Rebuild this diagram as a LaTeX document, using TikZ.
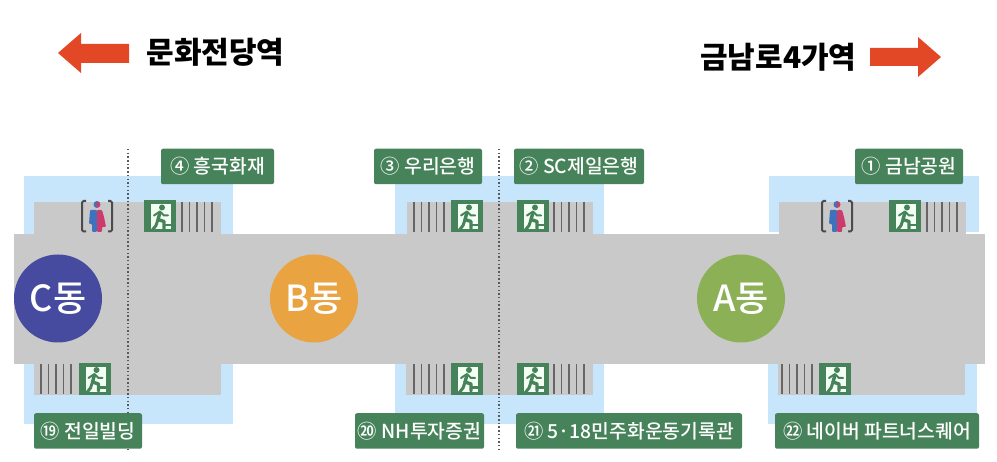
\documentclass[tikz,border=0pt]{standalone}
\usepackage{fontspec}
\setmainfont{Noto Sans CJK KR}
\newfontfamily\krmedium{Noto Sans CJK KR Medium}
\usetikzlibrary{arrows.meta}

\definecolor{zoneblue}{HTML}{C8E6FB}
\definecolor{floorgray}{HTML}{C9C9C9}
\definecolor{signgreen}{HTML}{47835A}
\definecolor{arrowred}{HTML}{E24726}
\definecolor{stairgray}{HTML}{666666}
\definecolor{manblue}{HTML}{3F72BD}
\definecolor{ladyred}{HTML}{CC3B6B}
\definecolor{dongblue}{HTML}{464BA0}
\definecolor{dongorange}{HTML}{E9A340}
\definecolor{donggreen}{HTML}{8CB056}

\tikzset{
  stationlabel/.style={fill=signgreen, text=white, rounded corners=2pt, inner sep=0pt,
    minimum height=35.5pt, font=\fontsize{19.3}{22}\selectfont\krmedium},
  dongcircle/.style={circle, text=white, minimum size=88pt, inner sep=0pt,
    font=\fontsize{36}{40}\selectfont\krmedium},
  stationtitle/.style={font=\fontsize{30}{34}\selectfont\bfseries},
  exitsign/.pic={
    \fill[signgreen] (0,0) rectangle (32,32);
    \fill[white!95!green] (7,4) rectangle (27,29);
    \fill[signgreen] (18,7) circle (3);
    \draw[signgreen, line width=3.4pt, line cap=round, line join=round]
      (16,12) -- (14,19) -- (20,21) -- (20,28);
    \draw[signgreen, line width=3pt, line cap=round, line join=round]
      (14,19) -- (12,25) -- (8,30);
    \draw[signgreen, line width=2pt, line cap=round, line join=round]
      (16,11) -- (10,15) (16,11) -- (20,15) -- (24,15);
    \draw[signgreen, line width=2.2pt] (20,24.5) -- (29,24.5);
  },
  toiletsign/.pic={
    \draw[black!70, line width=2pt, rounded corners=1.5pt] (-11,0) -- (-15,0) -- (-15,30.5) -- (-11,30.5);
    \draw[black!70, line width=2pt, rounded corners=1.5pt] (11,0) -- (15,0) -- (15,30.5) -- (11,30.5);
    \fill[manblue] (0,7) arc (90:270:3.5) -- cycle;
    \fill[ladyred] (0,7) arc (90:-90:3.5) -- cycle;
    \fill[manblue, rounded corners=1pt] (0,9) -- (-7,9) -- (-8,23) -- (-5,23) -- (-5,31) -- (0,31) -- cycle;
    \fill[ladyred, rounded corners=1pt] (0,9) -- (5,9) -- (7,16) -- (9,26) -- (5,26) -- (5,31) -- (0,31) -- cycle;
  },
}

\begin{document}
\begin{tikzpicture}[x=1pt, y=-1pt]
\useasboundingbox (0,0) rectangle (997,462);

% ============================================================
% Zones behind the concourse
% ============================================================
\fill[zoneblue] (24,176) rectangle (233,424);
\fill[zoneblue] (395,176) rectangle (604,424);
\fill[zoneblue] (769,176) rectangle (979,232);
\fill[zoneblue] (768,364) rectangle (977,424);

% ============================================================
% Main hall and exit lobes
% ============================================================
\fill[floorgray] (14,234) rectangle (985,364);
\fill[floorgray] (34,202) rectangle (221,234);
\fill[floorgray] (34,364) rectangle (221,395);
\fill[floorgray] (407,202) rectangle (593,234);
\fill[floorgray] (406,364) rectangle (593,395);
\fill[floorgray] (779,202) rectangle (966,234);
\fill[floorgray] (778,364) rectangle (965,395);

% Dotted block boundaries
\foreach \x in {128,499} {
  \draw[black!65, line width=1.3pt, dash pattern=on 1.5pt off 2.2pt] (\x,149) -- (\x,449);
}

% ============================================================
% Stairs
% ============================================================
\foreach \x/\y in {182/202,414/202,554/202,927/202,41/364,414/364,554/364,782/364} {
  \foreach \i in {0,1,2,3,4} {
    \draw[stairgray, line width=1.7pt] (\x+\i*7.5,\y) -- (\x+\i*7.5,\y+30);
  }
}

% ============================================================
% Exit signs
% ============================================================
\foreach \x/\y in {144/200.5,451/200.5,517/200.5,889/200.5,78.5/363,451/363,517/363,819/363} {
  \pic at (\x,\y) {exitsign};
}

% Toilets
\pic at (97,201) {toiletsign};
\pic at (837,201) {toiletsign};

% ============================================================
% Block circles
% ============================================================
\node[dongcircle, fill=dongblue] (dongC) at (58,298.5) {C동};
\node[dongcircle, fill=dongorange] (dongB) at (314,298.5) {B동};
\node[dongcircle, fill=donggreen] (dongA) at (741,298.5) {A동};

% ============================================================
% Exit labels
% ============================================================
\node[stationlabel, minimum width=113pt] (exit4) at (217.5,166.5) {④ 흥국화재};
\node[stationlabel, minimum width=108pt] (exit3) at (428,166.5) {③ 우리은행};
\node[stationlabel, minimum width=130pt] (exit2) at (579,166.5) {② SC제일은행};
\node[stationlabel, minimum width=108pt] (exit1) at (909,166.5) {① 금남공원};
\node[stationlabel, minimum width=108pt] (exit19) at (88,431) {⑲ 전일빌딩};
\node[stationlabel, minimum width=129pt] (exit20) at (419.5,431) {⑳ NH투자증권};
\node[stationlabel, minimum width=226pt] (exit21) at (629,431) {㉑ 5·18민주화운동기록관};
\node[stationlabel, minimum width=204pt] (exit22) at (877,431) {㉒ 네이버 파트너스퀘어};

% ============================================================
% Direction arrows
% ============================================================
\node[stationtitle, anchor=west] (stationW) at (143,52) {문화전당역};
\fill[arrowred] (129,44) -- (81,44) -- (81,33) -- (58,53) -- (81,73) -- (81,63) -- (129,63) -- cycle;

\node[stationtitle, anchor=east] (stationE) at (860,57) {금남로4가역};
\fill[arrowred] (870,48) -- (918,48) -- (918,37) -- (941,57) -- (918,77) -- (918,66) -- (870,66) -- cycle;

\end{tikzpicture}
\end{document}
